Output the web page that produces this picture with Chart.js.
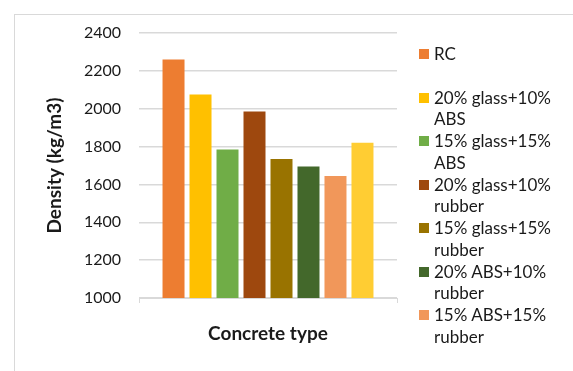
<!DOCTYPE html>
<html>
<head>
<meta charset="utf-8">
<script src="https://cdn.jsdelivr.net/npm/chart.js@4.4.1/dist/chart.umd.min.js"></script>
<style>
    html, body { margin: 0; padding: 0; background: #fff; }
    #wrap { position: relative; width: 573px; height: 371px; overflow: hidden; font-family: Lato, sans-serif; }
    #frame { position: absolute; left: 14px; top: 14px; right: -10px; bottom: -10px;
             border-top: 1px solid #d9d9d9; border-left: 1px solid #d9d9d9; }
    #densityChart { position: absolute; left: 0; top: 0; }
    #legend { position: absolute; left: 419px; top: 43px; width: 150px; height: 328px; overflow: hidden;
              font-size: 17px; color: #1a1a1a; }
    .item { position: relative; height: 43.5px; padding-left: 15px; line-height: 21.7px; box-sizing: border-box; }
    .item span.box { position: absolute; left: 0; top: 6px; width: 10px; height: 10px; }
</style>
</head>
<body>
<div id="wrap">
    <div id="frame"></div>
    <canvas id="densityChart" width="573" height="371"></canvas>
    <div id="legend"></div>
</div>
<script>
// --- Data ---
const mixLabels = ['RC', '20% glass+10% ABS', '15% glass+15% ABS', '20% glass+10% rubber',
    '15% glass+15% rubber', '20% ABS+10% rubber', '15% ABS+15% rubber', ''];
const densities = [2260, 2075, 1785, 1985, 1735, 1695, 1645, 1820];
const barColors = ['#ED7D31', '#FFC000', '#70AD47', '#9E480E', '#997300', '#43682B', '#F1975A', '#FFCD33'];
const yTicks = [1000, 1200, 1400, 1600, 1800, 2000, 2200, 2400];

const textColor = '#1a1a1a';
const gridColor = '#d9d9d9';

// one dataset per mix, all in a single category
const datasets = densities.map((v, i) => ({
    label: mixLabels[i],
    data: [v],
    backgroundColor: barColors[i],
    borderWidth: 0,
    categoryPercentage: 0.837,
    barPercentage: 0.815
}));

new Chart(document.getElementById('densityChart'), {
    type: 'bar',
    data: { labels: [''], datasets: datasets },
    options: {
        responsive: false,
        animation: false,
        layout: { padding: { left: 43, right: 176, top: 33, bottom: 26 } },
        plugins: { legend: { display: false }, tooltip: { enabled: false } },
        scales: {
            x: {
                ticks: { display: false },
                grid: { drawOnChartArea: false, drawTicks: true, tickLength: 5, color: gridColor },
                border: { color: gridColor, width: 1 },
                title: { display: true, text: 'Concrete type', color: textColor, padding: 0,
                         font: { family: 'Lato', size: 19, weight: 'bold' } },
                afterFit: s => { s.height = 47; }
            },
            y: {
                min: 1000, max: 2400,
                afterBuildTicks: s => { s.ticks = yTicks.map(v => ({ value: v })); },
                ticks: { color: textColor, padding: 18, font: { family: 'Lato', size: 16 },
                         callback: v => String(v) },
                grid: { color: gridColor, lineWidth: 1.5, drawTicks: false },
                border: { display: false },
                title: { display: true, text: 'Density (kg/m3)', color: textColor, padding: 0,
                         font: { family: 'Lato', size: 19, weight: 'bold' } },
                afterFit: s => { s.width = 96; }
            }
        }
    }
});

// --- Legend (wrapped text, two lines per entry) ---
const legend = document.getElementById('legend');
mixLabels.forEach((name, i) => {
    if (!name) return;
    const item = document.createElement('div');
    item.className = 'item';
    item.innerHTML = `<span class="box" style="background:${barColors[i]}"></span>${name}`;
    legend.appendChild(item);
});
</script>
</body>
</html>
